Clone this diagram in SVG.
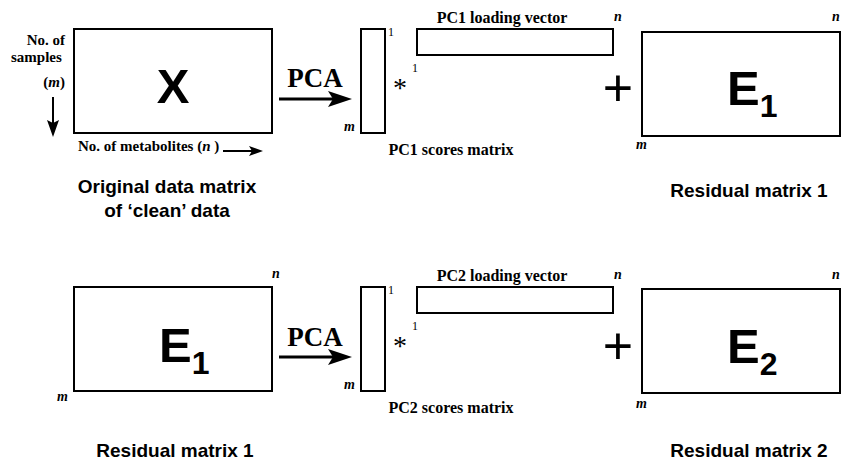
<svg xmlns="http://www.w3.org/2000/svg" width="842" height="462" viewBox="0 0 842 462">
<style>
.box{fill:#fff;stroke:#000;stroke-width:2}
.tb{font-family:"Liberation Serif",serif;font-weight:bold;fill:#000}
.ti{font-family:"Liberation Serif",serif;font-weight:bold;font-style:italic;fill:#000}
.tn{font-family:"Liberation Serif",serif;fill:#000}
.sb{font-family:"Liberation Sans",Arial,sans-serif;font-weight:bold;fill:#000}
.sn{font-family:"Liberation Sans",Arial,sans-serif;fill:#000}
.ln{stroke:#000;fill:none}
.lab{font-size:16px}
.sm{font-size:14px}
.one{font-size:12px}
.cap{font-size:19px}
</style>
<rect width="842" height="462" fill="#fff"/>

<!-- Row 1 -->
<g id="X">
<rect class="box" x="74" y="29" width="198" height="104"/>
<text class="sb" x="173" y="103" font-size="49" text-anchor="middle">X</text>
<text class="tb" x="65" y="45" font-size="15" text-anchor="end">No. of</text>
<text class="tb" x="11" y="62" font-size="15">samples</text>
<text class="tb" x="65" y="87" font-size="15" text-anchor="end">(<tspan class="ti">m</tspan>)</text>
<text class="tb" x="78" y="151" font-size="15">No. of metabolites  (<tspan class="ti">n</tspan> )</text>
<text class="sb cap" x="167" y="193" text-anchor="middle">Original data matrix</text>
<text class="sb cap" x="167" y="217" text-anchor="middle">of ‘clean’ data</text>
</g>

<g id="scores1">
<rect class="box" x="361" y="29" width="24" height="104"/>
<text class="tn one" x="388" y="36">1</text>
<text class="ti sm" x="344" y="131">m</text>
<text class="tb lab" x="451" y="155" text-anchor="middle">PC1 scores matrix</text>
</g>
<text class="tn" x="400" y="97" font-size="28" text-anchor="middle">*</text>
<g id="loading1">
<rect class="box" x="417" y="29" width="196" height="26"/>
<text class="tb lab" x="502" y="23" text-anchor="middle">PC1 loading vector</text>
<text class="ti sm" x="614" y="21">n</text>
<text class="tn one" x="412" y="72">1</text>
</g>
<text class="sn" x="618" y="106" font-size="52" text-anchor="middle">+</text>
<g id="E1a">
<rect class="box" x="642" y="32" width="198" height="104"/>
<text class="sb" x="727" y="105" font-size="49">E<tspan font-size="32" dy="12">1</tspan></text>
<text class="ti sm" x="832" y="21">n</text>
<text class="ti sm" x="636" y="149">m</text>
<text class="sb cap" x="749" y="197" text-anchor="middle">Residual matrix 1</text>
</g>

<!-- Row 2 -->
<g id="E1b">
<rect class="box" x="74" y="287" width="198" height="104"/>
<text class="sb" x="159" y="362" font-size="49">E<tspan font-size="32" dy="12">1</tspan></text>
<text class="ti sm" x="272" y="278">n</text>
<text class="ti sm" x="57" y="401">m</text>
<text class="sb cap" x="175" y="457" text-anchor="middle">Residual matrix 1</text>
</g>
<g id="scores2">
<rect class="box" x="361" y="287" width="24" height="104"/>
<text class="tn one" x="388" y="294">1</text>
<text class="ti sm" x="344" y="389">m</text>
<text class="tb lab" x="451" y="413" text-anchor="middle">PC2 scores matrix</text>
</g>
<text class="tn" x="400" y="355" font-size="28" text-anchor="middle">*</text>
<g id="loading2">
<rect class="box" x="417" y="287" width="196" height="26"/>
<text class="tb lab" x="502" y="281" text-anchor="middle">PC2 loading vector</text>
<text class="ti sm" x="614" y="279">n</text>
<text class="tn one" x="412" y="330">1</text>
</g>
<text class="sn" x="618" y="364" font-size="52" text-anchor="middle">+</text>
<g id="E2">
<rect class="box" x="642" y="289" width="198" height="104"/>
<text class="sb" x="727" y="363" font-size="49">E<tspan font-size="32" dy="12">2</tspan></text>
<text class="ti sm" x="832" y="279">n</text>
<text class="ti sm" x="636" y="408">m</text>
<text class="sb cap" x="749" y="457" text-anchor="middle">Residual matrix 2</text>
</g>

<g id="connectors">
<text class="tb" x="315" y="87" font-size="27" text-anchor="middle">PCA</text>
<line class="ln" x1="279" y1="99" x2="334" y2="99" stroke-width="3"/>
<polygon points="328,91 352,99 328,107 333,99"/>
<text class="tb" x="315" y="346" font-size="27" text-anchor="middle">PCA</text>
<line class="ln" x1="279" y1="357" x2="334" y2="357" stroke-width="3"/>
<polygon points="328,349 352,357 328,365 333,357"/>
<line class="ln" x1="53" y1="97" x2="53" y2="124" stroke-width="2"/>
<polygon points="47,120 53,137 59,120 53,123"/>
<line class="ln" x1="223" y1="151" x2="252" y2="151" stroke-width="2"/>
<polygon points="249,146 263,151 249,156 252,151"/>
</g>
</svg>
